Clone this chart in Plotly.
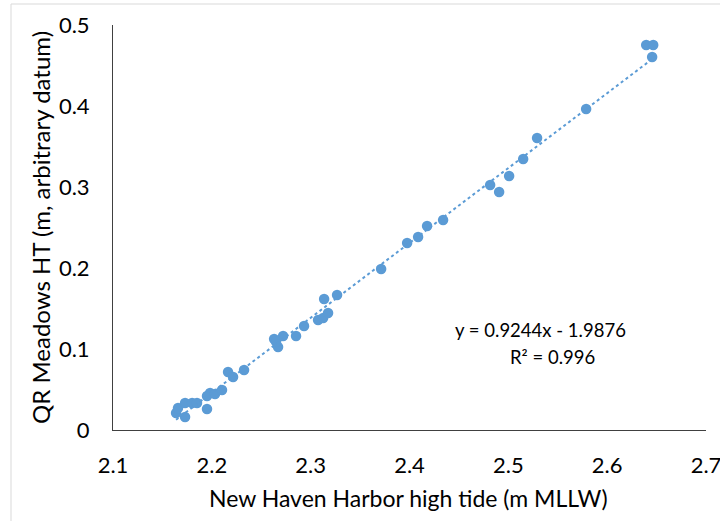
import plotly.graph_objects as go

# Data
nh_high_tide = [2.1638, 2.1658, 2.1729, 2.1729, 2.1800, 2.1850, 2.1951, 2.1951, 2.1982, 2.2032,
                2.2103, 2.2164, 2.2215, 2.2326, 2.2630, 2.2670, 2.2650, 2.2721, 2.2852, 2.2933,
                2.3075, 2.3126, 2.3176, 2.3136, 2.3267, 2.3713, 2.3976, 2.4087, 2.4178, 2.4340,
                2.4816, 2.4907, 2.5008, 2.5150, 2.5291, 2.5787, 2.6395, 2.6466, 2.6455]
qr_meadows_ht = [0.0210, 0.0272, 0.0160, 0.0333, 0.0333, 0.0333, 0.0259, 0.0420, 0.0457, 0.0444,
                 0.0494, 0.0716, 0.0654, 0.0741, 0.1123, 0.1025, 0.1090, 0.1160, 0.1160, 0.1284,
                 0.1358, 0.1383, 0.1444, 0.1617, 0.1667, 0.1988, 0.2309, 0.2383, 0.2519, 0.2593,
                 0.3025, 0.2938, 0.3136, 0.3346, 0.3605, 0.3963, 0.4753, 0.4753, 0.4605]

slope = 0.9244
intercept = -1.9876
r_squared = 0.996

x_ticks = [2.1, 2.2, 2.3, 2.4, 2.5, 2.6, 2.7]
y_ticks = [0, 0.1, 0.2, 0.3, 0.4, 0.5]
y_tick_labels = ["0", "0.1", "0.2", "0.3", "0.4", "0.5"]
x_title = "New Haven Harbor high tide (m MLLW)"
y_title = "QR Meadows HT (m, arbitrary datum)"

color = "#5B9BD5"
font = "Lato, 'Open Sans', sans-serif"

x0, x1 = min(nh_high_tide), max(nh_high_tide)
trend_x = [x0, x1]
trend_y = [slope * x0 + intercept, slope * x1 + intercept]

L, R, T, B = 113, 14, 25, 91
PW, PH = 720 - L - R, 521 - T - B

fig = go.Figure()
fig.add_trace(go.Scatter(x=nh_high_tide, y=qr_meadows_ht, mode="markers",
                         marker=dict(color=color, size=10.5), showlegend=False, hoverinfo="skip"))
fig.add_trace(go.Scatter(x=trend_x, y=trend_y, mode="lines",
                         line=dict(color=color, width=2, dash="dot"), showlegend=False, hoverinfo="skip"))

fig.add_annotation(x=2.533, y=0.123, xref="x", yref="y", showarrow=False,
                   text=f"y = {slope}x - {abs(intercept)}", font=dict(size=18.5, color="#000", family=font))
fig.add_annotation(x=2.545, y=0.090, xref="x", yref="y", showarrow=False,
                   text=f"R² = {r_squared}", font=dict(size=18.5, color="#000", family=font))

# axis titles
fig.add_annotation(x=(408 - L) / PW, y=(T + PH - 498) / PH, xref="paper", yref="paper",
                   showarrow=False, text=x_title, xanchor="center", yanchor="middle",
                   font=dict(size=23, color="#000", family=font))
fig.add_annotation(x=(40 - L) / PW, y=(T + PH - 228) / PH, xref="paper", yref="paper",
                   showarrow=False, text=y_title, textangle=-90, xanchor="center", yanchor="middle",
                   font=dict(size=24, color="#000", family=font))

fig.add_shape(type="rect", xref="paper", yref="paper",
              x0=(11 - L) / PW, x1=(730 - L) / PW,
              y0=(T + PH - 530) / PH, y1=(T + PH - 4) / PH,
              line=dict(color="#D9D9D9", width=1), layer="below")

fig.update_layout(
    width=720, height=521,
    margin=dict(l=L, r=R, t=T, b=B, autoexpand=False),
    plot_bgcolor="white", paper_bgcolor="white",
    font=dict(family=font, size=22, color="#000"),
    xaxis=dict(range=[2.1, 2.7], tickvals=x_ticks, ticktext=[str(v) for v in x_ticks],
               showgrid=False, zeroline=False, showline=True, linecolor="#404040", linewidth=1,
               ticks="", ticklen=0, tickfont=dict(size=22), ticklabelstandoff=16,
               ticklabeloverflow="allow", automargin=False),
    yaxis=dict(range=[0, 0.5], tickvals=y_ticks, ticktext=y_tick_labels,
               showgrid=False, zeroline=False, showline=True, linecolor="#404040", linewidth=1,
               ticks="", ticklen=0, tickfont=dict(size=22), ticklabelstandoff=18,
               ticklabeloverflow="allow", automargin=False),
)

fig.write_html("out.html", config={"displayModeBar": False},
               post_script="document.body.style.margin='0';")
